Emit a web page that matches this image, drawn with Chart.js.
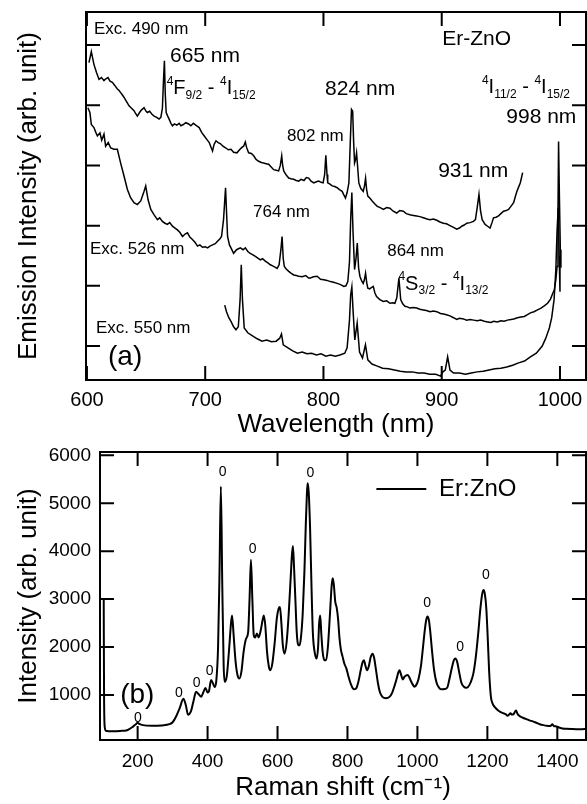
<!DOCTYPE html>
<html><head><meta charset="utf-8">
<script src="https://cdn.jsdelivr.net/npm/chart.js@4.4.1/dist/chart.umd.min.js"></script>
<style>
html,body{margin:0;padding:0;background:#fff;}
#wrap{position:relative;width:587px;height:804px;overflow:hidden;}
#ca{position:absolute;left:0;top:0;}
#cb{position:absolute;left:0;top:440px;}
</style></head><body>
<div id="wrap"><canvas id="ca" width="587" height="440"></canvas><canvas id="cb" width="587" height="364"></canvas></div>
<script>
// ---------- DATA: panel (a) emission spectra (wavelength nm, arb. intensity) ----------
const exc490 = [[601.7,4.71],[603.7,4.89],[605.9,4.68],[608,4.55],[610.2,4.43],[612.3,4.46],[614.4,4.41],[616,4.44],[617.8,4.46],[619.5,4.40],[621.5,4.38],[623.5,4.33],[625.7,4.27],[627,4.25],[628.5,4.21],[630,4.17],[631.4,4.13],[633.5,4.06],[635.6,3.99],[637.7,3.95],[639.8,3.91],[641,3.87],[642.6,3.82],[644.5,3.88],[646,3.92],[648.3,3.96],[650,3.9],[651.1,3.88],[653,3.9],[655,3.85],[656.8,3.82],[659,3.8],[661,3.77],[662.5,3.8],[663.8,3.95],[664.7,4.4],[665.5,4.74],[666.2,4.2],[667,3.88],[668.3,3.82],[669.5,3.77],[671,3.7],[672.3,3.66],[674,3.69],[676,3.67],[678,3.7],[679.4,3.66],[681.5,3.68],[683.6,3.71],[686,3.69],[687.9,3.66],[690,3.7],[692,3.67],[694.9,3.63],[697,3.55],[699.2,3.49],[701.5,3.43],[703.4,3.38],[705,3.30],[706.2,3.24],[707.5,3.35],[709.1,3.41],[711,3.38],[713,3.36],[715,3.32],[717.5,3.29],[719.5,3.26],[721.8,3.27],[724,3.22],[726.9,3.21],[729,3.26],[731,3.3],[732.5,3.32],[733.9,3.39],[735,3.3],[736.7,3.21],[739,3.2],[741,3.16],[743,3.1],[745.2,3.07],[747.5,3.05],[749.4,3.04],[751.5,3.03],[753.6,3.02],[756,2.97],[757.9,2.93],[760,2.92],[762.1,2.91],[763.5,3.0],[764.7,3.16],[765.5,3.0],[766.4,2.91],[768.5,2.84],[770.6,2.79],[772.5,2.78],[774.8,2.77],[777,2.75],[779.1,2.74],[781,2.77],[783.5,2.75],[785.5,2.8],[787.5,2.79],[789.5,2.74],[791.8,2.71],[794,2.73],[796,2.74],[798,2.72],[799.7,2.71],[801,2.85],[802,3.17],[803,2.85],[803.6,2.71],[805.5,2.69],[807.4,2.66],[809.5,2.65],[811.6,2.63],[813.5,2.6],[815.8,2.57],[817,2.52],[818.6,2.46],[820,2.55],[821.5,2.71],[822.7,3.4],[823.7,3.93],[824.7,3.9],[825.5,3.4],[826.3,3.04],[827.2,3.1],[828,3.21],[829,2.95],[829.9,2.71],[831.5,2.62],[833.6,2.57],[834.6,2.65],[835.6,2.79],[836.5,2.6],[837.5,2.49],[839.5,2.45],[841.2,2.41],[843.5,2.36],[845.5,2.32],[848,2.3],[850.6,2.27],[853.5,2.3],[856.2,2.29],[859,2.24],[861.9,2.21],[864.5,2.25],[867.5,2.24],[870,2.2],[873.1,2.18],[876,2.17],[878.8,2.16],[881.5,2.15],[884.5,2.13],[887.5,2.11],[890.1,2.1],[893,2.11],[895.8,2.09],[898.5,2.06],[901.4,2.04],[904,2.03],[907,2.0],[910,1.97],[912.7,1.94],[915,1.96],[916.9,1.99],[919,2.01],[921.2,2.04],[924,2.05],[926.8,2.07],[928.5,2.1],[930,2.3],[931.5,2.52],[932.8,2.25],[934.2,2.1],[935.5,2.06],[936.7,2.02],[938.8,1.99],[940.9,1.96],[942.5,2.05],[943.8,2.13],[946,2.14],[948,2.16],[950,2.2],[952.3,2.24],[954.5,2.25],[956.5,2.27],[958.5,2.32],[960.8,2.38],[962.2,2.48],[963.6,2.57],[965,2.64],[966.4,2.71],[967.5,2.8],[968.4,2.88]];
const exc526 = [[600.8,3.96],[602.5,3.88],[603.7,3.68],[605.9,3.63],[607.5,3.55],[608.8,3.49],[611,3.54],[612.5,3.42],[614.4,3.52],[615.8,3.32],[618,3.38],[620.1,3.29],[622.9,3.27],[625.7,3.27],[628.5,3.04],[631.4,2.82],[634.2,2.6],[637,2.46],[639.8,2.38],[642.6,2.35],[645.5,2.41],[648.3,2.57],[649.7,2.66],[651.7,2.43],[654,2.27],[656.8,2.18],[659.6,2.1],[661.5,2.13],[663.8,2.07],[666,2.04],[668,2.02],[670,2.05],[672.3,1.99],[674.5,1.96],[676.5,1.93],[678.5,1.89],[680.8,1.82],[683,1.86],[685,1.88],[687,1.81],[689.2,1.77],[691.5,1.72],[693.5,1.66],[695.5,1.68],[697.7,1.64],[700,1.65],[702,1.63],[704,1.66],[706.2,1.68],[708.5,1.7],[710.4,1.74],[712.5,1.78],[713.8,1.82],[715.5,2.1],[717.2,2.63],[718.9,1.82],[720.5,1.68],[721.8,1.63],[724,1.54],[726.5,1.6],[729.7,1.63],[732,1.6],[733.9,1.63],[736,1.57],[738.1,1.54],[740,1.52],[742.4,1.49],[744.5,1.46],[746.6,1.43],[748.5,1.45],[750.8,1.41],[753,1.38],[755.1,1.35],[757,1.33],[759,1.31],[760.8,1.29],[762.5,1.35],[764,1.6],[765,1.82],[766,1.45],[766.9,1.32],[768.5,1.28],[770.6,1.24],[772.5,1.21],[774.8,1.18],[777,1.17],[779.1,1.16],[782,1.15],[785,1.17],[787.5,1.13],[789,1.13],[791.5,1.15],[794.7,1.16],[797.5,1.11],[800.3,1.1],[803,1.09],[805.9,1.07],[808.5,1.06],[811.6,1.04],[814.5,1.02],[817.2,0.99],[819,1.0],[820.6,1.07],[822,1.4],[823,2.1],[824,2.55],[825,1.9],[826.3,1.27],[827.5,1.45],[828.6,1.71],[829.7,1.3],[830.8,1.16],[832.3,1.08],[833.6,1.04],[834.6,1.1],[835.6,1.21],[836.6,1.05],[837.5,0.96],[839,0.95],[840.5,0.97],[842.1,0.99],[843.5,0.88],[844.9,0.82],[847.7,0.77],[850.6,0.74],[853.5,0.75],[856.2,0.71],[858.5,0.72],[860.4,0.71],[862,0.8],[863.8,1.13],[865.3,0.77],[867,0.7],[868.9,0.66],[871,0.65],[873.1,0.63],[876,0.64],[878.8,0.63],[881.5,0.61],[884.5,0.6],[887,0.59],[890.1,0.57],[893,0.58],[895.8,0.57],[899,0.54],[901.4,0.53],[904,0.52],[907,0.5],[910,0.47],[912.7,0.44],[915,0.46],[918.4,0.45],[921,0.43],[924,0.44],[927,0.43],[930,0.42],[933,0.43],[936,0.41],[939,0.4],[941.5,0.39],[944,0.41],[947,0.4],[950,0.42],[952.8,0.41],[955.6,0.43],[958.5,0.44],[961,0.45],[964,0.47],[967,0.48],[969.8,0.49],[972.5,0.52],[975,0.55],[978,0.57],[981,0.6],[984,0.63],[987,0.67],[989.5,0.71],[992,0.78],[994,0.88],[995.2,0.93],[996.5,1.1],[997.5,1.32],[998.3,2.2],[998.8,3.4],[999.5,2.5],[1000.3,1.6],[1000.8,1.3]];
const exc550 = [[716.5,0.68],[718,0.57],[720,0.47],[722,0.4],[724,0.32],[726,0.27],[728,0.32],[729.5,0.77],[730.5,1.35],[731.5,0.77],[733,0.3],[736,0.22],[740,0.17],[744,0.12],[748,0.08],[752,0.1],[756,0.07],[760,0.08],[763,0.13],[764.5,0.2],[766,0.02],[770,-0.03],[774,-0.08],[778,-0.12],[782,-0.1],[786,-0.13],[790,-0.12],[794,-0.15],[798,-0.13],[802,-0.17],[806,-0.15],[810,-0.17],[814,-0.15],[818,-0.12],[820,-0.03],[822,0.43],[823,0.85],[824,0.98],[825,0.6],[826.5,0.1],[828.5,0.38],[830.5,-0.1],[833,-0.2],[835.5,0.02],[837.5,-0.23],[841,-0.3],[845,-0.33],[850,-0.37],[855,-0.38],[860,-0.4],[865,-0.42],[870,-0.43],[875,-0.43],[880,-0.45],[885,-0.45],[890,-0.47],[895,-0.47],[899,-0.5],[901,-0.43],[903,-0.4],[905,-0.18],[907,-0.4],[910,-0.45],[915,-0.45],[920,-0.47],[925,-0.45],[930,-0.43],[935,-0.42],[940,-0.4],[945,-0.38],[950,-0.37],[955,-0.35],[960,-0.32],[965,-0.28],[970,-0.25],[975,-0.18],[980,-0.12],[985,0.0],[988,0.13],[991,0.3],[993,0.47],[995,0.77],[996.5,1.27],[997.5,1.9],[998.5,2.3],[999.3,1.5],[1000,0.9]];
const xTicksA = [600,700,800,900,1000];
const yTicksA = [0,1,2,3,4,5];

// ---------- DATA: panel (b) Raman spectrum (shift cm-1, intensity) ----------
const ramanShift = [103,104,106,110,130,150,170,187,195,200,205,215,240,270,291,300,310,320,331,338,344,352,360,367,374,382,388,394,400,404,410,415,420,425,430,434,438,442,446,449,455,462,467,470,474,480,486,491,497,503,510,516,520,524,528,532,536,541,546,552,557,561,565,570,575,579,585,592,598,603,607,611,615,620,626,632,638,641,644,647,651,655,659,663,667,672,677,681,684,686,689,693,697,701,706,712,716,719,722,725,729,734,739,744,750,755,758,761,765,769,773,777,781,786,791,797,803,810,816,820,826,832,838,843,847,851,856,861,866,872,876,881,887,893,900,910,920,928,935,941,946,949,953,958,963,968,972,976,982,988,991,996,1003,1010,1016,1021,1025,1029,1033,1037,1042,1048,1055,1062,1070,1078,1085,1092,1098,1104,1109,1114,1120,1126,1133,1139,1145,1152,1160,1167,1174,1180,1185,1189,1193,1197,1201,1205,1210,1215,1222,1230,1238,1245,1252,1258,1262,1266,1270,1275,1279,1282,1286,1292,1300,1310,1320,1330,1340,1350,1360,1370,1380,1386,1390,1395,1405,1415,1425,1440,1455,1470,1482];
const ramanInt = [3000,1000,330,250,245,250,265,340,390,420,395,370,355,365,390,430,551,720,920,780,586,650,880,1068,1020,965,1060,1145,1050,1080,1310,1250,1165,1300,2000,3500,5350,3300,1600,1276,1400,2000,2500,2660,2300,1700,1400,1345,1500,1900,2173,2310,3000,3820,3000,2250,2200,2283,2200,2350,2550,2660,2450,1900,1600,1517,1650,2100,2600,2800,2835,2500,2050,1862,2100,2700,3500,3900,4110,3700,3000,2300,2050,2035,2200,2700,3600,4600,5200,5420,5250,4500,3300,2300,1900,1759,2000,2500,2660,2300,1900,1725,1725,2000,2700,3300,3436,3300,2950,2828,2600,2200,1950,1800,1656,1550,1380,1220,1130,1117,1150,1300,1520,1680,1725,1620,1517,1600,1780,1862,1780,1550,1250,1050,960,931,960,1050,1200,1350,1480,1517,1430,1325,1380,1410,1414,1380,1280,1200,1172,1200,1330,1600,2000,2350,2560,2635,2550,2300,1900,1500,1250,1150,1117,1125,1150,1350,1550,1720,1759,1680,1450,1250,1170,1151,1170,1260,1450,1800,2300,2800,3100,3192,3100,2800,2200,1500,965,820,740,680,640,620,600,565,590,620,590,600,650,675,610,560,530,500,470,448,420,390,370,355,350,390,350,345,320,300,295,289,285,285,290];
const xTicksB = [200,400,600,800,1000,1200,1400];
const yTicksB = [1000,2000,3000,4000,5000,6000];

// ---------- annotations (text + anchor in data units) ----------
const annA = [
  {t:'Exc. 490 nm', x:605.9, y:5.27, size:17},
  {t:'665 nm', x:670.2, y:4.82, size:21},
  {rich:[['4','sup'],['F'],['9/2','sub'],[' - '],['4','sup'],['I'],['15/2','sub']], x:667.4, y:4.30, size:20},
  {t:'Er-ZnO', x:900.4, y:5.10, size:21},
  {t:'824 nm', x:801.4, y:4.27, size:21},
  {rich:[['4','sup'],['I'],['11/2','sub'],[' - '],['4','sup'],['I'],['15/2','sub']], x:934.0, y:4.32, size:20},
  {t:'998 nm', x:954.6, y:3.80, size:21},
  {t:'802 nm', x:769.2, y:3.48, size:17},
  {t:'931 nm', x:897.0, y:2.90, size:21},
  {t:'764 nm', x:740.5, y:2.22, size:17},
  {t:'Exc. 526 nm', x:602.5, y:1.60, size:17},
  {t:'864 nm', x:853.9, y:1.57, size:17},
  {rich:[['4','sup'],['S'],['3/2','sub'],[' - '],['4','sup'],['I'],['13/2','sub']], x:863.4, y:1.05, size:20},
  {t:'Exc. 550 nm', x:607.6, y:0.30, size:17},
  {t:'(a)', x:617.8, y:-0.18, size:28}
];
const peakMarksB = [[201,520],[318,1042],[369,1250],[406,1501],[443,5655],[529,4048],[694,5635],[1028,2921],[1122,2002],[1196,3505]];
const annB = [
  {t:'(b)', x:150, y:1000, size:28}
].concat(peakMarksB.map(p=>({t:'0', x:p[0], y:p[1], size:14, align:'center'})));
const legendB = {label:'Er:ZnO', x1:882.7, x2:1025.3, tx:1062, y:5300, size:24};

const FONT = '"Liberation Sans", Arial, Helvetica, sans-serif';

function drawRich(ctx, segs, x, y, S){
  const s = Math.round(S*0.62);
  const base = y + S*0.36;
  ctx.textAlign='left'; ctx.textBaseline='alphabetic';
  for (const [t,k] of segs){
    if (k==='sup'){ ctx.font = s+'px '+FONT; ctx.fillText(t,x,base-S*0.48); }
    else if (k==='sub'){ ctx.font = s+'px '+FONT; ctx.fillText(t,x,base+S*0.22); }
    else { ctx.font = S+'px '+FONT; ctx.fillText(t,x,base); }
    x += ctx.measureText(t).width;
  }
}

const frameTicks = {
  id:'frameTicks',
  afterDraw(chart, args, opts){
    const {ctx, chartArea:a, scales} = chart;
    const L = opts.len || 14;
    ctx.save();
    ctx.strokeStyle='#000'; ctx.lineWidth=2; ctx.lineCap='butt';
    ctx.strokeRect(a.left, a.top, a.right-a.left, a.bottom-a.top);
    ctx.beginPath();
    scales.x.ticks.forEach(t=>{const p=scales.x.getPixelForValue(t.value);
      ctx.moveTo(p,a.bottom); ctx.lineTo(p,a.bottom-L); ctx.moveTo(p,a.top); ctx.lineTo(p,a.top+L);});
    scales.y.ticks.forEach(t=>{const p=scales.y.getPixelForValue(t.value);
      ctx.moveTo(a.left,p); ctx.lineTo(a.left+L,p); ctx.moveTo(a.right,p); ctx.lineTo(a.right-L,p);});
    ctx.stroke();
    ctx.restore();
  }
};

const annPlugin = {
  id:'ann',
  afterDatasetsDraw(chart, args, opts){
    const ctx=chart.ctx, xs=chart.scales.x, ys=chart.scales.y;
    ctx.save(); ctx.fillStyle='#000';
    for (const a of (opts.items||[])){
      const px=xs.getPixelForValue(a.x), py=ys.getPixelForValue(a.y);
      if (a.rich) drawRich(ctx,a.rich,px,py,a.size);
      else { ctx.font=a.size+'px '+FONT; ctx.textAlign=a.align||'left'; ctx.textBaseline='middle'; ctx.fillText(a.t,px,py); }
    }
    const lg = opts.legend;
    if (lg){
      const y = ys.getPixelForValue(lg.y);
      ctx.strokeStyle='#000'; ctx.lineWidth=2;
      ctx.beginPath(); ctx.moveTo(xs.getPixelForValue(lg.x1),y); ctx.lineTo(xs.getPixelForValue(lg.x2),y); ctx.stroke();
      ctx.font=lg.size+'px '+FONT; ctx.textAlign='left'; ctx.textBaseline='middle';
      ctx.fillText(lg.label, xs.getPixelForValue(lg.tx), y);
    }
    ctx.restore();
  }
};

function setTicks(arr){ return s => { s.ticks = arr.map(v=>({value:v})); }; }
function fitX(h){ return s => { s.height=h; s.paddingLeft=0; s.paddingRight=0; }; }
function fitY(w){ return s => { s.width=w; s.paddingTop=0; s.paddingBottom=0; }; }
const plainLabel = v => String(v);
const lineDs = (label, pts, w) => ({label, data: pts.map(([x,y])=>({x,y})), borderColor:'#000', backgroundColor:'#000', borderWidth:w, pointRadius:0, fill:false, tension:0});

new Chart(document.getElementById('ca'), {
  type:'line',
  data:{datasets:[lineDs('Exc. 490 nm',exc490,1.5), lineDs('Exc. 526 nm',exc526,1.5), lineDs('Exc. 550 nm',exc550,1.5)]},
  options:{
    responsive:false, animation:false, events:[],
    layout:{padding:{top:12,right:1,left:0,bottom:0}},
    plugins:{legend:{display:false}, tooltip:{enabled:false}, frameTicks:{len:14}, ann:{items:annA}},
    scales:{
      x:{type:'linear', min:599.2, max:1022, afterBuildTicks:setTicks(xTicksA), afterFit:fitX(60),
         grid:{display:false, drawTicks:false}, border:{display:false},
         ticks:{color:'#000', font:{family:FONT, size:20}, padding:8, callback:plainLabel},
         title:{display:true, text:'Wavelength (nm)', color:'#000', font:{family:FONT, size:26}, padding:{top:0,bottom:0}}},
      y:{type:'linear', min:-0.565, max:5.55, afterBuildTicks:setTicks(yTicksA), afterFit:fitY(86),
         grid:{display:false, drawTicks:false}, border:{display:false},
         ticks:{display:false},
         title:{display:true, text:'Emission Intensity (arb. unit)', color:'#000', font:{family:FONT, size:26}, padding:{top:13,bottom:0}}}
    }
  },
  plugins:[frameTicks, annPlugin]
});

new Chart(document.getElementById('cb'), {
  type:'line',
  data:{datasets:[{label:'Er:ZnO', data: ramanShift.map((x,i)=>({x, y: ramanInt[i]})), borderColor:'#000', backgroundColor:'#000', borderWidth:2, pointRadius:0, fill:false, cubicInterpolationMode:'monotone'}]},
  options:{
    responsive:false, animation:false, events:[],
    layout:{padding:{top:12,right:1,left:0,bottom:0}},
    plugins:{legend:{display:false}, tooltip:{enabled:false}, frameTicks:{len:14}, ann:{items:annB, legend:legendB}},
    scales:{
      x:{type:'linear', min:92.4, max:1482, afterBuildTicks:setTicks(xTicksB), afterFit:fitX(64),
         grid:{display:false, drawTicks:false}, border:{display:false},
         ticks:{color:'#000', font:{family:FONT, size:19}, padding:10, callback:plainLabel},
         title:{display:true, text:'Raman shift (cm\u207B\u00B9)', color:'#000', font:{family:FONT, size:26}, padding:{top:0,bottom:1}}},
      y:{type:'linear', min:60, max:6070, afterBuildTicks:setTicks(yTicksB), afterFit:fitY(100),
         grid:{display:false, drawTicks:false}, border:{display:false},
         ticks:{color:'#000', font:{family:FONT, size:19}, padding:9, callback:plainLabel},
         title:{display:true, text:'Intensity (arb. unit)', color:'#000', font:{family:FONT, size:26}, padding:{top:13,bottom:0}}}
    }
  },
  plugins:[frameTicks, annPlugin]
});
</script>
</body></html>
